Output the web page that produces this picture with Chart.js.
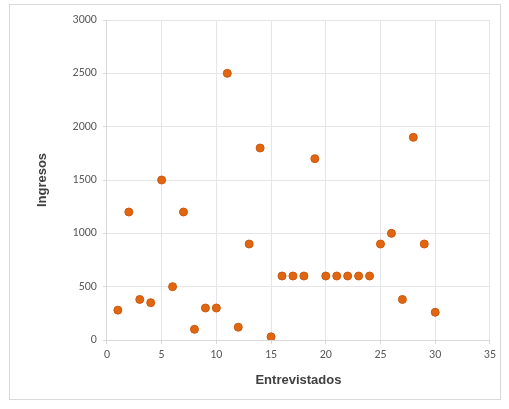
<!DOCTYPE html>
<html>
<head>
<meta charset="utf-8">
<script src="https://cdn.jsdelivr.net/npm/chart.js@4"></script>
<style>
  html, body { margin: 0; padding: 0; background: #fff; }
  .wrap { position: absolute; left: 9px; top: 4px; width: 490px; height: 394px; border: 1px solid #d9d9d9; }
</style>
</head>
<body>
<div class="wrap"><canvas id="myChart" width="490" height="394"></canvas></div>
<script>
// entrevistados (x) e ingresos (y)
const entrevistados = [1, 2, 3, 4, 5, 6, 7, 8, 9, 10, 11, 12, 13, 14, 15, 16, 17, 18, 19, 20, 21, 22, 23, 24, 25, 26, 27, 28, 29, 30];
const ingresos = [280, 1200, 380, 350, 1500, 500, 1200, 100, 300, 300, 2500, 120, 900, 1800, 30, 600, 600, 600, 1700, 600, 600, 600, 600, 600, 900, 1000, 380, 1900, 900, 260];
const xTicks = [0, 5, 10, 15, 20, 25, 30, 35];
const yTicks = [0, 500, 1000, 1500, 2000, 2500, 3000];

document.addEventListener("DOMContentLoaded", function () {
    var ctx = document.getElementById("myChart").getContext("2d");
    var points = entrevistados.map((x, i) => ({ x: x, y: ingresos[i] }));

    new Chart(ctx, {
        type: "scatter",
        data: {
            datasets: [{
                label: "Ingresos",
                data: points,
                backgroundColor: "#e2660f",
                borderColor: "#c85a12",
                borderWidth: 1,
                pointRadius: 4,
                pointHoverRadius: 4
            }]
        },
        options: {
            responsive: false,
            animation: false,
            layout: { padding: { top: 15, right: 8, left: 21, bottom: 7 } },
            plugins: {
                legend: { display: false },
                tooltip: { enabled: false }
            },
            scales: {
                x: {
                    type: "linear",
                    min: 0,
                    max: 35,
                    afterBuildTicks: axis => { axis.ticks = xTicks.map(v => ({ value: v })); },
                    grid: { color: "#e6e6e6", drawTicks: true, tickLength: 4, tickColor: "#d9d9d9" },
                    border: { color: "#d9d9d9" },
                    ticks: { color: "#595959", font: { family: "Calibri, 'Liberation Sans', 'DejaVu Sans'", size: 12 }, padding: 4, callback: v => String(v) },
                    title: {
                        display: true,
                        text: "Entrevistados",
                        color: "#404040",
                        font: { family: "'Liberation Sans', 'DejaVu Sans'", size: 13, weight: "bold" },
                        padding: { top: 6 }
                    }
                },
                y: {
                    min: 0,
                    max: 3000,
                    afterBuildTicks: axis => { axis.ticks = yTicks.map(v => ({ value: v })); },
                    grid: { color: "#e6e6e6", drawTicks: true, tickLength: 4, tickColor: "#d9d9d9" },
                    border: { color: "#d9d9d9" },
                    ticks: { color: "#595959", font: { family: "Calibri, 'Liberation Sans', 'DejaVu Sans'", size: 12 }, padding: 6, callback: v => String(v) },
                    title: {
                        display: true,
                        text: "Ingresos",
                        color: "#404040",
                        font: { family: "'Liberation Sans', 'DejaVu Sans'", size: 13, weight: "bold" },
                        padding: { bottom: 16 }
                    }
                }
            }
        }
    });
});
</script>
</body>
</html>
